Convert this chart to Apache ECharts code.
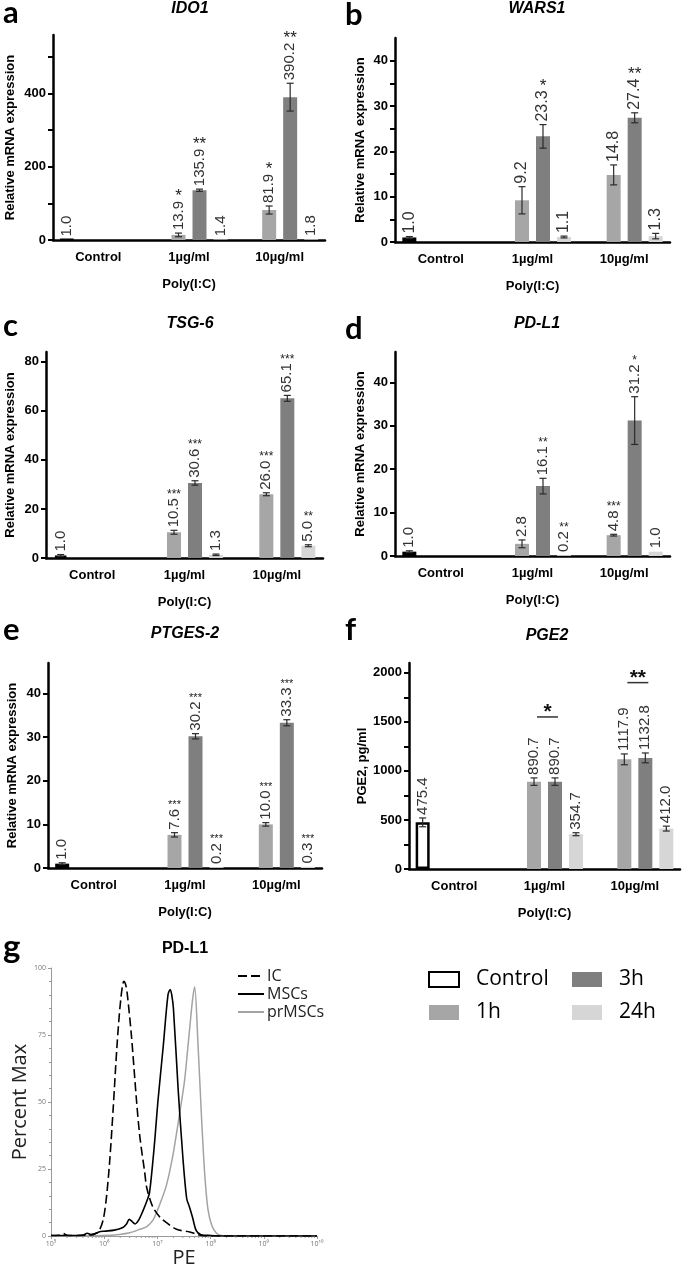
<!DOCTYPE html>
<html><head><meta charset="utf-8">
<script src="https://cdn.jsdelivr.net/npm/echarts@6/dist/echarts.min.js"></script>
<style>html,body{margin:0;padding:0;background:#fff}#c{width:685px;height:1269px}</style>
</head><body><div id="c"></div>
<script>
// ---------------- data ----------------
const categories = ['Control', '1µg/ml', '10µg/ml'];
const groups = ['Control', '1h', '3h', '24h'];
const xAxisTitle = 'Poly(I:C)';
const mrnaAxisTitle = 'Relative mRNA expression';
const pge2AxisTitle = 'PGE2, pg/ml';

// rows: Control, 1h, 3h, 24h ; columns: categories
const ido1Values = [[1.0, null, null], [null, 13.9, 81.9], [null, 135.9, 390.2], [null, 1.4, 1.8]];
const ido1Errors = [[0.3, 0, 0], [0, 5, 11], [0, 3, 38], [0, 0.5, 0.6]];
const ido1Stars = [['', '', ''], ['', '*', '*'], ['', '**', '**'], ['', '', '']];
const ido1Ticks = [0, 200, 400];
const ido1MinorTicks = [100, 300, 500];

const wars1Values = [[1.0, null, null], [null, 9.2, 14.8], [null, 23.3, 27.4], [null, 1.1, 1.3]];
const wars1Errors = [[0.2, 0, 0], [0, 3.0, 2.2], [0, 2.6, 1.1], [0, 0.2, 0.6]];
const wars1Stars = [['', '', ''], ['', '', ''], ['', '*', '**'], ['', '', '']];
const wars1Ticks = [0, 10, 20, 30, 40];
const wars1MinorTicks = [5, 15, 25, 35];

const tsg6Values = [[1.0, null, null], [null, 10.5, 26.0], [null, 30.6, 65.1], [null, 1.3, 5.0]];
const tsg6Errors = [[0.4, 0, 0], [0, 0.8, 0.6], [0, 0.9, 1.2], [0, 0.3, 0.4]];
const tsg6Stars = [['', '', ''], ['', '***', '***'], ['', '***', '***'], ['', '', '**']];
const tsg6Ticks = [0, 20, 40, 60, 80];

const pdl1Values = [[1.0, null, null], [null, 2.8, 4.8], [null, 16.1, 31.2], [null, 0.2, 1.0]];
const pdl1Errors = [[0.2, 0, 0], [0, 0.9, 0.2], [0, 1.8, 5.5], [0, 0.05, 0.1]];
const pdl1Stars = [['', '', ''], ['', '', '***'], ['', '**', '*'], ['', '**', '']];
const pdl1Ticks = [0, 10, 20, 30, 40];

const ptges2Values = [[1.0, null, null], [null, 7.6, 10.0], [null, 30.2, 33.3], [null, 0.2, 0.3]];
const ptges2Errors = [[0.2, 0, 0], [0, 0.5, 0.4], [0, 0.6, 0.7], [0, 0.05, 0.05]];
const ptges2Stars = [['', '', ''], ['', '***', '***'], ['', '***', '***'], ['', '***', '***']];
const ptges2Ticks = [0, 10, 20, 30, 40];

const pge2Values = [[475.4, null, null], [null, 890.7, 1117.9], [null, 890.7, 1132.8], [null, 354.7, 412.0]];
const pge2Errors = [[45, 0, 0], [0, 38, 55], [0, 38, 50], [0, 15, 25]];
const pge2Stars = [['', '', ''], ['', '', ''], ['', '', ''], ['', '', '']];
const pge2Ticks = [0, 500, 1000, 1500, 2000];
const pge2MinorTicks = [250, 750, 1250, 1750];
const pge2SigCategory = [1, 2];
const pge2SigLevel = [1550, 1900];
const pge2SigLabel = ['*', '**'];

// panel g: flow cytometry histogram (PE intensity, % of max)
const icPE = [1.0e5, 1.41e5, 1.70e5, 2.00e5, 3.16e5, 5.01e5, 6.31e5, 7.76e5, 9.55e5, 1.11e6, 1.28e6, 1.48e6, 1.74e6, 2.04e6, 2.34e6, 2.51e6, 2.69e6, 3.24e6, 4.07e6, 4.68e6, 5.75e6, 6.31e6, 8.13e6, 1.12e7, 1.48e7, 2.29e7, 4.07e7, 5.75e7, 7.94e7, 3.16e8, 1.0e10];
const icPct = [0.2, 0.3, 0.9, 0.3, 0.2, 0.4, 0.6, 1.5, 6, 15, 29, 48, 71, 88, 95, 94, 91, 75, 50, 37, 24, 18, 11, 7, 5, 2.5, 1.5, 0.5, 0, 0, 0];
const mscPE = [1.0e5, 2.0e5, 3.98e5, 4.79e5, 5.75e5, 7.94e5, 1.0e6, 1.55e6, 2.24e6, 2.63e6, 2.95e6, 3.31e6, 3.80e6, 4.47e6, 5.25e6, 6.31e6, 7.08e6, 8.32e6, 9.12e6, 1.02e7, 1.29e7, 1.58e7, 1.74e7, 1.86e7, 2.0e7, 2.45e7, 3.02e7, 3.55e7, 3.98e7, 4.57e7, 5.37e7, 6.61e7, 1.0e8, 2.0e8, 1.0e10];
const mscPct = [0.2, 0.2, 0.3, 1.0, 0.5, 1.5, 1.8, 2.2, 3.2, 4.5, 6.2, 5.5, 4.5, 6, 9, 13, 16, 29, 38, 50, 71, 90, 92, 90, 85, 55, 29, 14, 11, 7, 2, 0.5, 0.2, 0, 0];
const prmscPE = [1.0e5, 1.0e6, 1.95e6, 3.02e6, 4.68e6, 6.31e6, 8.32e6, 1.0e7, 1.12e7, 1.48e7, 1.95e7, 2.63e7, 3.24e7, 3.72e7, 4.07e7, 4.57e7, 5.01e7, 5.75e7, 6.76e7, 7.76e7, 8.91e7, 1.05e8, 1.29e8, 1.58e8, 3.16e8, 1.0e10];
const prmscPct = [0, 0.2, 0.6, 1.2, 2.5, 3.5, 6, 9.6, 12, 19, 30, 46, 58, 70, 78, 88, 93, 73, 44, 23, 10, 4, 1, 0.2, 0, 0];
const histNames = ['IC', 'MSCs', 'prMSCs'];
const peMinorTicks = [2e5,3e5,4e5,5e5,6e5,7e5,8e5,9e5, 2e6,3e6,4e6,5e6,6e6,7e6,8e6,9e6, 2e7,3e7,4e7,5e7,6e7,7e7,8e7,9e7, 2e8,3e8,4e8,5e8,6e8,7e8,8e8,9e8, 2e9,3e9,4e9,5e9,6e9,7e9,8e9,9e9];

// ---------------- styling / layout ----------------
const FONT = '"Liberation Sans", Arial, Helvetica, sans-serif';
const SOFT = '"Open Sans", "Noto Sans", sans-serif';
const barColors = ['#ffffff', '#a6a6a6', '#7f7f7f', '#d6d6d6'];
const BAR_W = 14, SLOT = 21;

const panels = [
  { letter: 'a', title: 'IDO1', values: ido1Values, errors: ido1Errors, stars: ido1Stars, ticks: ido1Ticks, minor: ido1MinorTicks, yName: mrnaAxisTitle,
    grid: { left: 53, top: 35, width: 272, height: 205 }, max: 560, nameGap: 36, lx: 3, ly: -3, tx: 190, ty: 10, labelSize: 15, starSize: 17 },
  { letter: 'b', title: 'WARS1', values: wars1Values, errors: wars1Errors, stars: wars1Stars, ticks: wars1Ticks, minor: wars1MinorTicks, yName: mrnaAxisTitle,
    grid: { left: 395, top: 38, width: 275, height: 204 }, max: 45, nameGap: 28, lx: 345, ly: -1, tx: 537, ty: 10, labelSize: 16, starSize: 17 },
  { letter: 'c', title: 'TSG-6', values: tsg6Values, errors: tsg6Errors, stars: tsg6Stars, ticks: tsg6Ticks, minor: [], yName: mrnaAxisTitle,
    grid: { left: 46, top: 352, width: 277, height: 206 }, max: 84, nameGap: 29, lx: 3, ly: 310, tx: 190, ty: 325, labelSize: 15, starSize: 12 },
  { letter: 'd', title: 'PD-L1', values: pdl1Values, errors: pdl1Errors, stars: pdl1Stars, ticks: pdl1Ticks, minor: [], yName: mrnaAxisTitle,
    grid: { left: 395, top: 352, width: 275, height: 204 }, max: 47, nameGap: 28, lx: 345, ly: 313, tx: 537, ty: 325, labelSize: 15, starSize: 12 },
  { letter: 'e', title: 'PTGES-2', values: ptges2Values, errors: ptges2Errors, stars: ptges2Stars, ticks: ptges2Ticks, minor: [], yName: mrnaAxisTitle,
    grid: { left: 48, top: 663, width: 274, height: 205 }, max: 47, nameGap: 29, lx: 3, ly: 614, tx: 185, ty: 635, labelSize: 15, starSize: 11 },
  { letter: 'f', title: 'PGE2', values: pge2Values, errors: pge2Errors, stars: pge2Stars, ticks: pge2Ticks, minor: pge2MinorTicks, yName: pge2AxisTitle,
    grid: { left: 409, top: 663, width: 271, height: 206 }, max: 2100, nameGap: 40, lx: 345, ly: 614, tx: 547, ty: 637, labelSize: 15, starSize: 12 }
];

const measureCtx = document.createElement('canvas').getContext('2d');
function textWidth(t, size) { measureCtx.font = size + 'px ' + FONT; return measureCtx.measureText(t).width; }

const grids = [], xAxes = [], yAxes = [], series = [], titles = [], graphics = [];

function annotationSeries(pi, P) {
  const data = [];
  const starText = [];
  P.values.forEach((row, s) => row.forEach((v, c) => {
    if (v !== null) { data.push([c, v, P.errors[s][c], s]); starText.push(P.stars[s][c]); }
  }));
  return {
    type: 'custom', xAxisIndex: pi, yAxisIndex: pi, z: 10, silent: true, clip: false,
    data,
    renderItem(params, api) {
      const c = api.value(0), v = api.value(1), e = api.value(2), s = api.value(3);
      const star = starText[params.dataIndex];
      const p = api.coord([c, v]);
      const x = p[0] + (s - 1.5) * SLOT;
      const yTop = api.coord([c, v + e])[1];
      const yBot = api.coord([c, Math.max(0, v - e)])[1];
      const ch = [];
      const es = { stroke: '#2a2a2a', lineWidth: 1.2 };
      if (yBot - yTop > 1.2) {
        ch.push({ type: 'line', shape: { x1: x, y1: yTop, x2: x, y2: yBot }, style: es });
        ch.push({ type: 'line', shape: { x1: x - 3.5, y1: yTop, x2: x + 3.5, y2: yTop }, style: es });
        ch.push({ type: 'line', shape: { x1: x - 3.5, y1: yBot, x2: x + 3.5, y2: yBot }, style: es });
      }
      const label = v.toFixed(1);
      const ly = Math.min(yTop, p[1]) - 3;
      ch.push({ type: 'text', x: x, y: ly, rotation: Math.PI / 2,
        style: { text: label, fontSize: P.labelSize, fontFamily: FONT, fill: '#333', align: 'left', verticalAlign: 'middle' } });
      if (star) {
        const w = textWidth(label, P.labelSize);
        const sy = ly - w - 2 + P.starSize * 0.35;
        ch.push({ type: 'text', x: x, y: sy,
          style: { text: star, fontSize: P.starSize, fontFamily: FONT, fill: '#222', align: 'center', verticalAlign: 'bottom' } });
      }
      return { type: 'group', children: ch };
    }
  };
}

panels.forEach((P, i) => {
  grids.push(Object.assign({ containLabel: false }, P.grid));
  xAxes.push({
    type: 'category', gridIndex: i, data: categories,
    axisLine: { lineStyle: { color: '#000', width: 2.5 } },
    axisTick: { show: false },
    axisLabel: { fontWeight: 'bold', fontSize: 13, color: '#000', margin: 11, fontFamily: FONT },
    name: xAxisTitle, nameLocation: 'middle', nameGap: 38,
    nameTextStyle: { fontWeight: 'bold', fontSize: 13, color: '#000', fontFamily: FONT }
  });
  yAxes.push({
    type: 'value', gridIndex: i, min: 0, max: P.max,
    axisLine: { show: true, lineStyle: { color: '#000', width: 2.5 } },
    axisTick: { show: true, length: 5, lineStyle: { color: '#000', width: 2 }, customValues: P.ticks.concat(P.minor) },
    axisLabel: { customValues: P.ticks, formatter: v => String(v), fontWeight: 'bold', fontSize: 13, color: '#000', margin: 7, fontFamily: FONT },
    splitLine: { show: false },
    name: P.yName, nameLocation: 'middle', nameGap: P.nameGap,
    nameTextStyle: { fontWeight: 'bold', fontSize: 13, color: '#000', fontFamily: FONT }
  });
  groups.forEach((g, s) => {
    series.push({
      type: 'bar', name: g, xAxisIndex: i, yAxisIndex: i, data: P.values[s],
      barWidth: BAR_W, barGap: '50%', silent: true,
      itemStyle: s === 0 ? { color: '#fff', borderColor: '#000', borderWidth: 2.5 } : { color: barColors[s] }
    });
  });
  series.push(annotationSeries(i, P));
  titles.push({ text: P.title, left: P.tx, top: P.ty - 9, textAlign: 'center', padding: 0,
    textStyle: { fontSize: 16, fontWeight: 'bold', fontStyle: 'italic', fontFamily: FONT, color: '#000' } });
  graphics.push({ type: 'text', x: P.lx, y: P.ly, style: { text: P.letter, font: 'bold 31px Lato, "Open Sans", sans-serif', fill: '#000', verticalAlign: 'top' } });
});

// significance brackets for PGE2 (panel f, index 5)
series.push({
  type: 'custom', xAxisIndex: 5, yAxisIndex: 5, z: 11, silent: true, clip: false,
  data: pge2SigCategory.map((c, k) => [c, pge2SigLevel[k]]),
  renderItem(params, api) {
    const p = api.coord([api.value(0), api.value(1)]);
    const x1 = p[0] - 0.5 * SLOT + 3, x2 = p[0] + 0.5 * SLOT + 3;
    return { type: 'group', children: [
      { type: 'line', shape: { x1, y1: p[1], x2, y2: p[1] }, style: { stroke: '#333', lineWidth: 1.5 } },
      { type: 'text', x: (x1 + x2) / 2, y: p[1] + 6, style: { text: pge2SigLabel[params.dataIndex], fontSize: 21, fontWeight: 'bold', fontFamily: FONT, fill: '#111', align: 'center', verticalAlign: 'bottom' } }
    ] };
  }
});

// ---------------- panel g ----------------
const G = 6;
grids.push({ left: 51, top: 968, width: 266, height: 272, containLabel: false });
const sup = { '0': '⁰', '1': '¹', '2': '²', '3': '³', '4': '⁴', '5': '⁵', '6': '⁶', '7': '⁷', '8': '⁸', '9': '⁹' };
xAxes.push({
  type: 'log', gridIndex: G, logBase: 10, min: 1e5, max: 1e10, splitNumber: 5,
  axisLine: { lineStyle: { color: '#9a9a9a', width: 1 } },
  axisTick: { length: 3, lineStyle: { color: '#9a9a9a' } },
  axisLabel: { fontSize: 7, color: '#777', margin: 4, fontFamily: SOFT,
    formatter: v => '10' + String(Math.round(Math.log10(v))).split('').map(d => sup[d]).join('') },
  splitLine: { show: false },
  name: 'PE', nameLocation: 'middle', nameGap: 12,
  nameTextStyle: { fontSize: 20, color: '#222', fontFamily: SOFT }
});
yAxes.push({
  type: 'value', gridIndex: G, min: 0, max: 100, interval: 25,
  axisLine: { show: true, lineStyle: { color: '#9a9a9a', width: 1 } },
  axisTick: { show: true, length: 3, lineStyle: { color: '#9a9a9a' } },
  minorTick: { show: true, splitNumber: 5, length: 2, lineStyle: { color: '#9a9a9a' } },
  axisLabel: { fontSize: 7, color: '#777', margin: 5, fontFamily: SOFT },
  splitLine: { show: false },
  name: 'Percent Max', nameLocation: 'middle', nameGap: 17,
  nameTextStyle: { fontSize: 20, color: '#222', fontFamily: SOFT }
});
const histSeries = [[icPE, icPct], [mscPE, mscPct], [prmscPE, prmscPct]];
const histStyle = [
  { color: '#000', width: 1.6, type: [9, 4] },
  { color: '#000', width: 1.6, type: 'solid' },
  { color: '#a3a3a3', width: 1.5, type: 'solid' }
];
histSeries.forEach((h, k) => {
  series.push({
    type: 'line', name: histNames[k], xAxisIndex: G, yAxisIndex: G,
    data: h[0].map((x, j) => [x, h[1][j]]),
    symbol: 'none', smooth: 0.3, silent: true,
    lineStyle: histStyle[k], itemStyle: { color: histStyle[k].color }, z: 5 - k
  });
});
// log-spaced minor ticks on the PE axis
series.push({
  type: 'custom', xAxisIndex: G, yAxisIndex: G, silent: true, clip: false,
  data: peMinorTicks.map(v => [v, 0]),
  renderItem(params, api) {
    const p = api.coord([api.value(0), 0]);
    return { type: 'line', shape: { x1: p[0], y1: p[1], x2: p[0], y2: p[1] + 2 }, style: { stroke: '#9a9a9a', lineWidth: 1 } };
  }
});
titles.push({ text: 'PD-L1', left: 185, top: 941, textAlign: 'center', padding: 0,
  textStyle: { fontSize: 16, fontWeight: 'bold', fontFamily: FONT, color: '#000' } });
graphics.push({ type: 'text', x: 3, y: 931, style: { text: 'g', font: 'bold 33px Lato, "Open Sans", sans-serif', fill: '#000', verticalAlign: 'top' } });

const option = {
  animation: false,
  backgroundColor: '#fff',
  title: titles,
  grid: grids,
  xAxis: xAxes,
  yAxis: yAxes,
  legend: [
    { data: ['Control', '1h'], left: 423, top: 964, orient: 'vertical', icon: 'rect', itemWidth: 30, itemHeight: 15, itemGap: 12,
      selectedMode: false, textStyle: { fontSize: 21, fontFamily: SOFT, color: '#000', padding: [0, 0, 0, 12] } },
    { data: ['3h', '24h'], left: 567, top: 964, orient: 'vertical', icon: 'rect', itemWidth: 30, itemHeight: 15, itemGap: 12,
      selectedMode: false, textStyle: { fontSize: 21, fontFamily: SOFT, color: '#000', padding: [0, 0, 0, 12] } },
    { data: histNames, left: 232, top: 963, orient: 'vertical', itemWidth: 26, itemHeight: 8, itemGap: 2,
      itemStyle: { opacity: 0 },
      selectedMode: false, textStyle: { fontSize: 16, fontFamily: SOFT, color: '#222', padding: [0, 0, 0, -2] } }
  ],
  graphic: graphics,
  series
};
const chart = echarts.init(document.getElementById('c'), null, { renderer: 'canvas', width: 685, height: 1269 });
chart.setOption(option);
</script></body></html>
